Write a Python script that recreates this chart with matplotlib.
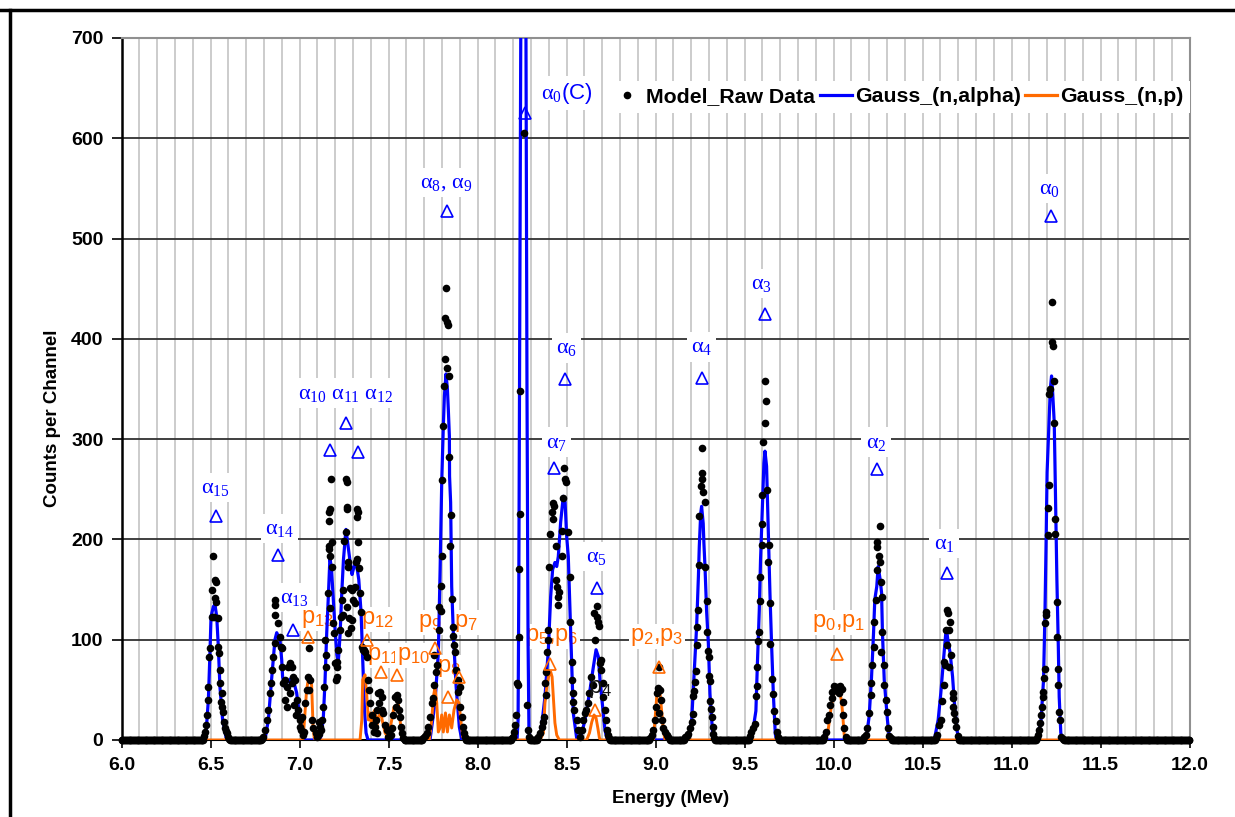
import numpy as np
import matplotlib
matplotlib.use("Agg")
import matplotlib.pyplot as plt
from matplotlib.lines import Line2D
from matplotlib.ticker import MultipleLocator, FormatStrFormatter

plt.rcParams['font.family'] = ['Liberation Sans', 'DejaVu Sans']
plt.rcParams['mathtext.fontset'] = 'custom'
plt.rcParams['mathtext.rm'] = 'Liberation Serif'
plt.rcParams['mathtext.it'] = 'Liberation Serif:italic'
plt.rcParams['mathtext.sf'] = 'Liberation Sans'
plt.rcParams['mathtext.bf'] = 'Liberation Serif:bold'

# ---- raw data points (energy MeV, counts) read per peak ----
raw_a15 = [(6.465,4),(6.470,8),(6.475,15),(6.478,25),(6.484,40),(6.488,53),(6.493,83),(6.497,92),
           (6.506,123),(6.508,150),(6.516,183),(6.519,123),(6.524,142),(6.525,160),(6.531,158),
           (6.533,138),(6.540,122),(6.544,93),(6.548,87),(6.551,70),(6.553,57),(6.557,38),(6.562,47),
           (6.566,33),(6.570,28),(6.576,18),(6.581,12),(6.586,9),(6.591,7),(6.598,3),(6.605,1)]
raw_a14 = [(6.790,1),(6.797,3),(6.806,10),(6.816,20),(6.825,30),(6.834,47),(6.838,57),(6.847,70),
           (6.853,83),(6.860,97),(6.862,125),(6.862,140),(6.864,135),(6.881,117),(6.890,103),
           (6.898,93),(6.902,92),(6.900,73),(6.905,57),(6.918,60),(6.920,40),(6.928,53),(6.930,33),
           (6.937,73),(6.947,77),(6.947,47),(6.956,73),(6.956,57),(6.965,63),(6.970,35),(6.975,60),
           (6.980,25),(6.984,40),(6.993,30),(7.000,13),(7.003,20),(7.008,10),(7.012,23)]
raw_p13 = [(7.020,5),(7.028,8),(7.030,37),(7.040,50),(7.047,63),(7.053,92),(7.055,50),(7.059,60),
           (7.068,20),(7.078,12),(7.093,7),(7.100,3),(7.108,6),(7.111,18),(7.115,13)]
raw_a10 = [(7.120,10),(7.125,20),(7.130,33),(7.138,53),(7.146,100),(7.147,73),(7.149,85),(7.158,147),
           (7.164,190),(7.166,193),(7.168,218),(7.168,227),(7.171,230),(7.171,183),(7.171,132),
           (7.177,260),(7.181,173),(7.183,197),(7.190,117),(7.193,107),(7.199,77),(7.205,60),
           (7.209,73),(7.209,63),(7.212,78)]
raw_a11 = [(7.218,90),(7.225,110),(7.232,123),(7.237,140),(7.242,125),(7.246,150),(7.250,198),
           (7.259,207),(7.261,260),(7.265,257),(7.265,232),(7.269,230),(7.271,173),(7.274,177),
           (7.274,107),(7.265,133),(7.280,122),(7.284,152),(7.287,112),(7.293,150),(7.293,120),
           (7.302,140),(7.312,137)]
raw_a12 = [(7.312,153),(7.315,177),(7.321,180),(7.321,222),(7.325,230),(7.327,227),(7.330,197),
           (7.336,172),(7.340,147),(7.345,128),(7.350,93),(7.355,90),(7.362,90),(7.368,88),
           (7.377,83),(7.387,60),(7.392,50),(7.396,37),(7.405,25),(7.410,15),(7.418,8)]
raw_p11 = [(7.424,13),(7.430,20),(7.434,7),(7.438,30),(7.443,47),(7.449,37),(7.452,48),(7.462,43),
           (7.462,30),(7.471,27),(7.480,15),(7.490,10),(7.498,3),(7.505,3),(7.515,5),(7.522,12),
           (7.528,25),(7.536,43),(7.542,33),(7.546,45),(7.555,40),(7.561,30),(7.565,23),(7.570,13),
           (7.575,7),(7.582,2)]
raw_a8 = [(7.696,2),(7.706,4),(7.715,7),(7.724,13),(7.733,23),(7.743,37),(7.748,42),(7.756,85),
          (7.758,55),(7.765,68),(7.770,75),(7.784,110),(7.786,133),(7.793,129),(7.795,154),
          (7.803,183),(7.803,259),(7.808,313),(7.812,353),(7.818,380),(7.818,421),(7.823,451),
          (7.827,417),(7.831,371),(7.833,414),(7.840,363),(7.840,282),(7.846,193),(7.849,224),
          (7.855,141),(7.861,113),(7.861,104),(7.868,95),(7.874,88),(7.880,70),(7.893,60),
          (7.893,48),(7.902,53),(7.902,33),(7.912,23),(7.921,13),(7.925,7),(7.930,3)]
raw_a0c = [(8.195,2),(8.200,3),(8.205,8),(8.212,15),(8.218,25),(8.224,57),(8.226,55),(8.233,103),
           (8.233,171),(8.239,225),(8.239,348),(8.261,605),(8.277,35),(8.282,10),(8.290,3)]
raw_a7 = [(8.342,3),(8.351,7),(8.361,13),(8.368,18),(8.374,23),(8.379,57),(8.383,45),(8.385,68),
          (8.392,88),(8.395,100),(8.398,110),(8.404,173),(8.407,205),(8.417,227),(8.422,236),
          (8.426,220),(8.430,233),(8.441,193),(8.441,160),(8.449,153),(8.454,143),(8.454,135),
          (8.460,148),(8.473,183),(8.477,208),(8.482,241),(8.486,271),(8.492,260),(8.497,257),
          (8.510,207),(8.520,163),(8.520,118),(8.529,78),(8.529,60),(8.535,47),(8.538,38),
          (8.544,30),(8.557,20),(8.567,10),(8.576,3)]
raw_a5 = [(8.585,10),(8.595,20),(8.604,27),(8.612,30),(8.620,37),(8.629,47),(8.636,63),(8.651,55),
          (8.657,127),(8.661,100),(8.670,134),(8.670,123),(8.679,118),(8.683,114),(8.688,77),
          (8.692,70),(8.694,80),(8.703,57),(8.707,43),(8.716,30),(8.722,20),(8.726,10),(8.732,5),
          (8.738,2)]
raw_p2 = [(8.970,2),(8.979,5),(8.988,10),(8.997,20),(9.003,33),(9.007,47),(9.016,52),(9.020,73),
          (9.022,27),(9.025,50),(9.031,40),(9.034,20),(9.040,12),(9.053,8),(9.063,5),(9.072,3)]
raw_a4 = [(9.166,3),(9.175,4),(9.184,6),(9.194,12),(9.203,18),(9.209,26),(9.212,44),(9.216,49),
          (9.222,58),(9.227,69),(9.231,95),(9.235,113),(9.241,130),(9.246,175),(9.246,223),
          (9.255,253),(9.259,260),(9.263,266),(9.263,291),(9.268,247),(9.278,237),(9.278,173),
          (9.287,139),(9.291,108),(9.297,89),(9.300,83),(9.302,64),(9.306,59),(9.306,39),
          (9.310,31),(9.315,23),(9.321,13),(9.325,6),(9.330,2)]
raw_a3 = [(9.530,4),(9.539,8),(9.548,12),(9.558,16),(9.564,44),(9.568,54),(9.571,73),(9.577,99),
          (9.583,108),(9.586,139),(9.586,163),(9.596,194),(9.596,215),(9.601,244),(9.605,297),
          (9.615,316),(9.615,358),(9.620,338),(9.628,249),(9.633,177),(9.637,194),(9.643,137),
          (9.643,96),(9.652,61),(9.662,46),(9.666,29),(9.677,19),(9.685,8),(9.690,3)]
raw_p0 = [(9.948,3),(9.957,8),(9.966,20),(9.976,25),(9.982,35),(9.989,42),(9.994,48),(10.004,54),
          (10.013,50),(10.022,53),(10.030,47),(10.037,54),(10.045,51),(10.051,38),(10.056,25),
          (10.060,12),(10.069,3)]
raw_a2 = [(10.172,3),(10.182,5),(10.191,12),(10.200,27),(10.210,45),(10.213,57),(10.219,75),
          (10.225,93),(10.228,118),(10.238,140),(10.243,192),(10.247,197),(10.247,170),(10.257,183),
          (10.262,213),(10.262,177),(10.266,158),(10.266,88),(10.275,143),(10.275,108),(10.281,75),
          (10.285,55),(10.294,40),(10.300,28),(10.307,12),(10.313,4),(10.322,2)]
raw_a1 = [(10.575,2),(10.584,5),(10.594,15),(10.603,20),(10.612,39),(10.618,55),(10.622,78),
          (10.625,75),(10.631,110),(10.635,95),(10.640,130),(10.644,127),(10.650,110),(10.650,73),
          (10.655,118),(10.659,85),(10.669,47),(10.669,42),(10.674,33),(10.678,27),(10.682,20),
          (10.687,13),(10.697,4)]
raw_a0 = [(11.143,2),(11.150,5),(11.157,10),(11.160,17),(11.166,25),(11.172,33),(11.175,43),
          (11.175,48),(11.180,62),(11.189,71),(11.189,117),(11.194,125),(11.194,128),(11.203,204),
          (11.203,231),(11.212,254),(11.212,345),(11.218,350),(11.225,437),(11.230,397),(11.232,393),
          (11.240,358),(11.240,316),(11.245,220),(11.245,205),(11.255,138),(11.255,103),(11.262,71),
          (11.262,55),(11.268,28),(11.272,20),(11.280,3),(11.288,1)]

raw_peaks = [raw_a15, raw_a14, raw_p13, raw_a10, raw_a11, raw_a12, raw_p11, raw_a8, raw_a0c,
             raw_a7, raw_a5, raw_p2, raw_a4, raw_a3, raw_p0, raw_a2, raw_a1, raw_a0]

# ---- Gauss_(n,alpha) fitted curve vertices ----
gauss_alpha = [(6.0,0),
    (6.465,0),(6.475,7),(6.488,40),(6.497,87),(6.503,123),(6.516,133),(6.525,135),(6.535,123),
    (6.544,93),(6.553,53),(6.568,20),(6.587,3),(6.600,0),
    (6.806,0),(6.825,20),(6.843,60),(6.862,100),(6.872,107),(6.890,100),(6.900,80),(6.905,63),
    (6.918,53),(6.928,57),(6.956,62),(6.965,60),(6.984,47),(7.003,20),(7.021,3),(7.031,0),
    (7.115,0),(7.125,8),(7.134,23),(7.143,57),(7.153,107),(7.162,143),(7.171,182),(7.180,170),
    (7.190,140),(7.200,110),(7.210,85),(7.218,78),(7.228,105),(7.237,145),(7.247,180),(7.261,210),
    (7.274,192),(7.284,178),(7.295,165),(7.305,172),(7.318,178),(7.333,160),(7.346,127),
    (7.355,80),(7.365,30),(7.374,7),(7.385,0),
    (7.733,0),(7.761,37),(7.780,87),(7.790,170),(7.799,257),(7.808,313),(7.814,343),(7.823,365),
    (7.831,350),(7.836,330),(7.842,303),(7.843,263),(7.849,237),(7.855,153),(7.865,103),
    (7.880,53),(7.898,13),(7.912,0),
    (8.222,0),(8.228,20),(8.232,150),(8.238,450),(8.243,720),(8.255,1000),(8.272,720),
    (8.278,350),(8.284,100),(8.289,10),(8.295,0),
    (8.351,0),(8.379,43),(8.398,90),(8.411,143),(8.422,170),(8.435,177),(8.445,173),(8.454,183),
    (8.467,217),(8.482,243),(8.492,237),(8.501,203),(8.510,183),(8.520,127),(8.529,77),
    (8.538,27),(8.557,2),(8.567,0),
    (8.576,0),(8.604,20),(8.632,50),(8.651,73),(8.666,90),(8.679,83),(8.688,60),(8.703,33),
    (8.716,10),(8.729,0),
    (9.184,0),(9.203,19),(9.216,63),(9.231,113),(9.241,163),(9.246,193),(9.254,226),(9.259,233),
    (9.268,216),(9.272,196),(9.278,173),(9.287,129),(9.297,96),(9.306,46),(9.321,6),(9.334,0),
    (9.539,0),(9.564,29),(9.573,79),(9.583,129),(9.590,179),(9.598,219),(9.609,276),(9.615,288),
    (9.624,273),(9.628,246),(9.635,196),(9.643,146),(9.652,96),(9.662,46),(9.673,6),(9.680,0),
    (10.182,0),(10.200,23),(10.213,60),(10.225,107),(10.232,140),(10.243,153),(10.251,173),
    (10.262,160),(10.270,147),(10.275,107),(10.285,60),(10.294,40),(10.303,20),(10.313,3),
    (10.322,0),
    (10.566,0),(10.588,20),(10.603,47),(10.618,80),(10.631,107),(10.636,110),(10.642,100),
    (10.655,87),(10.669,63),(10.678,40),(10.693,10),(10.706,0),
    (11.138,0),(11.165,17),(11.180,60),(11.188,127),(11.194,193),(11.200,267),(11.207,300),
    (11.218,350),(11.225,363),(11.231,347),(11.240,317),(11.244,277),(11.250,210),(11.255,160),
    (11.263,93),(11.268,43),(11.277,7),(11.287,0),
    (12.0,0)]

# ---- Gauss_(n,p) fitted curve vertices ----
gauss_p = [(6.0,0),
    (7.018,0),(7.022,5),(7.030,25),(7.040,50),(7.049,60),(7.060,60),(7.068,55),(7.071,40),
    (7.076,15),(7.082,3),(7.088,0),
    (7.340,0),(7.350,20),(7.355,60),(7.368,65),(7.377,47),(7.387,20),(7.396,27),(7.405,13),
    (7.415,27),(7.424,30),(7.434,13),(7.443,23),(7.456,27),(7.468,17),(7.481,7),(7.499,2),
    (7.518,20),(7.531,33),(7.542,30),(7.555,37),(7.565,20),(7.574,3),(7.583,0),
    (7.729,0),(7.743,20),(7.752,43),(7.761,52),(7.771,37),(7.780,8),(7.789,12),(7.799,25),
    (7.808,8),(7.820,27),(7.831,8),(7.842,25),(7.855,12),(7.868,30),(7.883,40),(7.896,37),
    (7.906,20),(7.917,3),(7.927,0),
    (8.351,0),(8.370,7),(8.379,37),(8.392,57),(8.404,67),(8.411,68),(8.419,63),(8.426,43),
    (8.435,17),(8.445,5),(8.460,0),
    (8.613,0),(8.629,7),(8.642,18),(8.655,25),(8.666,22),(8.676,12),(8.685,2),(8.692,0),
    (8.988,0),(8.997,20),(9.007,43),(9.016,50),(9.025,47),(9.034,30),(9.044,10),(9.053,0),
    (9.957,0),(9.970,10),(9.985,30),(9.994,40),(10.004,47),(10.022,48),(10.037,47),(10.045,38),
    (10.051,27),(10.060,5),(10.069,0),
    (12.0,0)]

# ---- peak labels: (text, x, y) and marker triangles (x, y) ----
alpha_labels = [
    (r'$\mathrm{\alpha}_{15}$', 6.525, 252),
    (r'$\mathrm{\alpha}_{14}$', 6.888, 211),
    (r'$\mathrm{\alpha}_{13}$', 6.972, 142),
    (r'$\mathrm{\alpha}_{10}\ \mathrm{\alpha}_{11}\ \mathrm{\alpha}_{12}$', 7.261, 346),
    (r'$\mathrm{\alpha}_{8},\,\mathrm{\alpha}_{9}$', 7.823, 556),
    (r'$\mathrm{\alpha}_{0}\mathsf{(C)}$', 8.501, 645),
    (r'$\mathrm{\alpha}_{6}$', 8.501, 391),
    (r'$\mathrm{\alpha}_{7}$', 8.445, 297),
    (r'$\mathrm{\alpha}_{5}$', 8.666, 183),
    (r'$\mathrm{\alpha}_{4}$', 9.259, 392),
    (r'$\mathrm{\alpha}_{3}$', 9.597, 455),
    (r'$\mathrm{\alpha}_{2}$', 10.239, 297),
    (r'$\mathrm{\alpha}_{1}$', 10.621, 196),
    (r'$\mathrm{\alpha}_{0}$', 11.213, 550),
]
alpha_tri_x = [6.531, 6.880, 6.965, 7.171, 7.261, 7.329, 7.827, 8.267, 8.492, 8.430, 8.670,
               9.259, 9.615, 10.246, 10.636, 11.224]
alpha_tri_y = [223, 184, 110, 289, 316, 287, 527, 625, 360, 271, 152, 361, 425, 270, 167, 523]

p_labels = [
    (r'p$_\mathsf{13}$', 7.100, 121),
    (r'p$_\mathsf{12}$', 7.437, 120),
    (r'p$_\mathsf{11}$', 7.470, 84),
    (r'p$_\mathsf{10}$', 7.640, 84),
    (r'p$_\mathsf{9}$', 7.732, 117),
    (r'p$_\mathsf{8}$', 7.838, 72),
    (r'p$_\mathsf{7}$', 7.932, 117),
    (r'p$_\mathsf{5}$,p$_\mathsf{6}$', 8.415, 103),
    (r'p$_\mathsf{2}$,p$_\mathsf{3}$', 9.007, 103),
    (r'p$_\mathsf{0}$,p$_\mathsf{1}$', 10.030, 117),
]
p4_label = (r'p$_\mathsf{4}$', 8.688, 51)
p_tri_x = [7.050, 7.377, 7.456, 7.549, 7.761, 7.832, 7.898, 8.407, 8.660, 9.021, 10.018]
p_tri_y = [103, 100, 68, 65, 92, 43, 63, 76, 30, 73, 86]

BLUE = '#0000FF'
ORANGE = '#FF6A00'

# raw series: peak points plus the zero channels between peaks
peak_e = np.array([p[0] for pk in raw_peaks for p in pk])
peak_c = np.array([p[1] for pk in raw_peaks for p in pk])
channels = np.arange(6.0, 12.0001, 0.005)
inside = np.zeros(len(channels), dtype=bool)
for pk in raw_peaks:
    e = [p[0] for p in pk]
    inside |= (channels > min(e) - 0.004) & (channels < max(e) + 0.004)
zero_e = channels[~inside]
raw_x = np.concatenate([zero_e, peak_e])
raw_y = np.concatenate([np.zeros(len(zero_e)), peak_c])

fig = plt.figure(figsize=(12.35, 8.17), dpi=100)
ax = fig.add_axes([121.5/1235, 1-740/817, 1068/1235, 702/817])

ga = np.array(gauss_alpha)
gp = np.array(gauss_p)
ax.plot(ga[:, 0], ga[:, 1], color=BLUE, lw=2.3, zorder=3)
ax.plot(gp[:, 0], gp[:, 1], color=ORANGE, lw=2.1, zorder=3.5)
ax.plot(raw_x, raw_y, 'o', color='black', ms=5.5, mew=0, zorder=4, clip_on=False)

for txt, x, y in alpha_labels:
    ax.text(x, y, txt, color=BLUE, fontsize=16, ha='center', va='center', zorder=2,
            bbox=dict(facecolor='white', edgecolor='none', pad=3))
ax.plot(alpha_tri_x, alpha_tri_y, '^', ls='none', ms=8, mfc='none', mec=BLUE, mew=1.2, zorder=5)

for txt, x, y in p_labels:
    ax.text(x, y, txt, color=ORANGE, fontsize=17, ha='center', va='center', zorder=2,
            bbox=dict(facecolor='white', edgecolor='none', pad=1))
ax.text(p4_label[1], p4_label[2], p4_label[0], color='#111111', fontsize=17,
        ha='center', va='center', zorder=4.5)
ax.plot(p_tri_x, p_tri_y, '^', ls='none', ms=8, mfc='none', mec=ORANGE, mew=1.2, zorder=5)

ax.set_xlim(6.0, 12.0)
ax.set_ylim(0, 700)
ax.xaxis.set_major_locator(MultipleLocator(0.5))
ax.xaxis.set_minor_locator(MultipleLocator(0.1))
ax.xaxis.set_major_formatter(FormatStrFormatter('%.1f'))
ax.yaxis.set_major_locator(MultipleLocator(100))
ax.grid(which='both', axis='x', color='#c8c8c8', lw=1.3)
ax.grid(which='major', axis='y', color='#303030', lw=1.3)
ax.set_axisbelow(True)
ax.tick_params(axis='x', which='major', direction='out', length=6, width=1.2, pad=6,
               labelsize=14)
ax.tick_params(axis='x', which='minor', length=0)
ax.tick_params(axis='y', direction='out', length=7, width=1.2, pad=6, labelsize=14)
for lab in ax.get_xticklabels() + ax.get_yticklabels():
    lab.set_fontweight('bold')
ax.spines['left'].set_linewidth(1.8)
ax.spines['bottom'].set_linewidth(1.5)
ax.spines['top'].set_color('#909090')
ax.spines['right'].set_color('#909090')
ax.spines['top'].set_linewidth(1.5)
ax.spines['right'].set_linewidth(1.5)

ax.set_xlabel('Energy (Mev)', fontsize=13.5, fontweight='bold')
ax.set_ylabel('Counts per Channel', fontsize=13.5, fontweight='bold')
ax.xaxis.set_label_coords(0.5145, -0.071)
ax.yaxis.set_label_coords(-0.057, 0.459)

handles = [Line2D([], [], marker='o', ls='none', color='black', ms=4.5),
           Line2D([], [], color=BLUE, lw=2.3),
           Line2D([], [], color=ORANGE, lw=2.3)]
leg = ax.legend(handles, ['Model_Raw Data', 'Gauss_(n,alpha)', 'Gauss_(n,p)'],
                loc='upper right', bbox_to_anchor=(1.0, 0.939), borderaxespad=0, ncol=3,
                prop={'weight': 'bold', 'size': 15.3}, frameon=True, fancybox=False,
                handlelength=1.5, handletextpad=0.15, columnspacing=0.2, borderpad=0.3)
leg.get_frame().set_facecolor('white')
leg.get_frame().set_edgecolor('none')
leg.get_frame().set_alpha(1)
leg.set_zorder(6)

# page frame lines of the source figure
fig.add_artist(Line2D([0, 1], [1-10/817, 1-10/817], color='black', lw=2.5))
fig.add_artist(Line2D([10/1235, 10/1235], [0, 1-10/817], color='black', lw=2.5))

fig.savefig('out.png', dpi=100)
